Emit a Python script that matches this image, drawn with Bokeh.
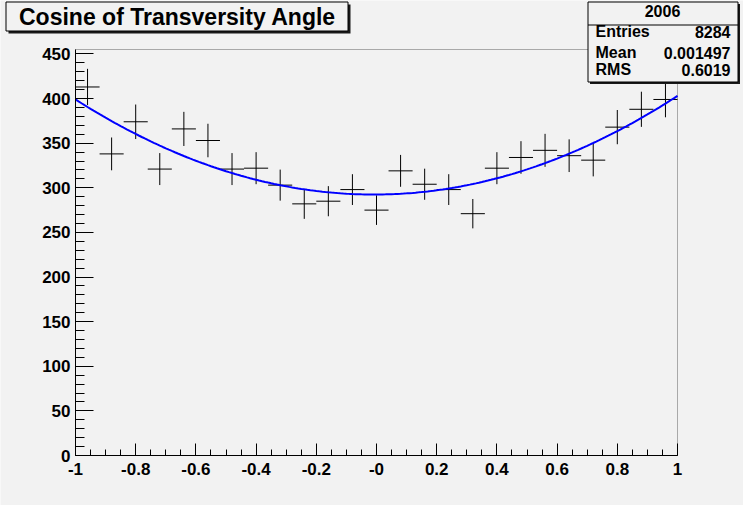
import numpy as np
from bokeh.plotting import figure
from bokeh.models import Range1d, FixedTicker, Label, BoxAnnotation, ColumnDataSource
from bokeh.embed import file_html
from bokeh.resources import INLINE

# ---- data ----
bin_centers = [-0.96, -0.88, -0.80, -0.72, -0.64, -0.56, -0.48, -0.40, -0.32, -0.24,
               -0.16, -0.08, 0.00, 0.08, 0.16, 0.24, 0.32, 0.40, 0.48, 0.56,
               0.64, 0.72, 0.80, 0.88, 0.96]
bin_width = 0.08
counts = [413, 338, 374, 321, 366, 353, 321, 322, 303, 282,
          285, 298, 275, 319, 304, 298, 271, 322, 334, 342,
          336, 331, 368, 388, 399]
# pol2 fit drawn over the histogram: p0 + p1*x + p2*x^2
fit_params = [292.5, 2.0, 108.5]

x_axis_range = [-1.0, 1.0]
y_axis_range = [0.0, 455.0]
x_tick_values = [-1.0, -0.8, -0.6, -0.4, -0.2, 0.0, 0.2, 0.4, 0.6, 0.8, 1.0]
x_tick_labels = ["-1", "-0.8", "-0.6", "-0.4", "-0.2", "-0", "0.2", "0.4", "0.6", "0.8", "1"]
y_tick_values = [0, 50, 100, 150, 200, 250, 300, 350, 400, 450]

title_text = "Cosine of Transversity Angle"
stats_title = "2006"
stats_names = ["Entries", "Mean", "RMS"]
stats_values = ["8284", "0.001497", "0.6019"]

# ---- layout (pixels inside the 743x505 canvas) ----
W, H = 743, 505
FL, FR, FT, FB = 75, 677, 49, 455      # frame edges of the histogram pad
FONT = "Liberation Sans"
BG = "#f2f2f2"

xs_per_px = (x_axis_range[1] - x_axis_range[0]) / (FR - FL)
ys_per_px = (y_axis_range[1] - y_axis_range[0]) / (FB - FT)
xr = Range1d(x_axis_range[0] - FL * xs_per_px, x_axis_range[1] + (W - FR) * xs_per_px)
yr = Range1d(y_axis_range[0] - (H - FB) * ys_per_px, y_axis_range[1] + FT * ys_per_px)

p = figure(width=W, height=H, x_range=xr, y_range=yr,
           output_backend="svg", toolbar_location=None,
           min_border_left=0, min_border_right=0, min_border_top=0, min_border_bottom=0,
           background_fill_color=BG, border_fill_color=BG, outline_line_color=None)
p.title.visible = False
p.grid.visible = False

# frame of the pad
p.add_layout(BoxAnnotation(left=x_axis_range[0], right=x_axis_range[1],
                           bottom=y_axis_range[0], top=y_axis_range[1],
                           fill_alpha=0, line_color="black", line_width=1, level="underlay"))

x_minor = [round(-1 + 0.05 * i, 2) for i in range(41)]
y_minor = list(range(0, 451, 10))
p.xaxis.ticker = FixedTicker(ticks=x_tick_values, minor_ticks=x_minor)
p.yaxis.ticker = FixedTicker(ticks=y_tick_values, minor_ticks=y_minor)
p.xaxis.major_label_overrides = {v: l for v, l in zip(x_tick_values, x_tick_labels)}
p.xaxis.fixed_location = y_axis_range[0]
p.yaxis.fixed_location = x_axis_range[0]
p.xaxis.bounds = tuple(x_axis_range)
p.yaxis.bounds = tuple(y_axis_range)

for ax in (p.xaxis[0], p.yaxis[0]):
    ax.axis_line_color = "black"
    ax.major_tick_line_color = "black"
    ax.minor_tick_line_color = "black"
    ax.major_tick_out = 0
    ax.minor_tick_out = 0
    ax.major_label_text_font = FONT
    ax.major_label_text_font_style = "bold"
    ax.major_label_text_font_size = "17px"
    ax.major_label_text_color = "black"
p.xaxis.major_label_standoff = 7
p.yaxis.major_label_standoff = 5
p.xaxis.major_tick_in = 12
p.xaxis.minor_tick_in = 6
p.yaxis.major_tick_in = 18
p.yaxis.minor_tick_in = 9

errs = [float(np.sqrt(c)) for c in counts]
src = ColumnDataSource(dict(
    x=bin_centers, y=counts,
    xl=[c - bin_width / 2 for c in bin_centers], xr=[c + bin_width / 2 for c in bin_centers],
    lo=[c - e for c, e in zip(counts, errs)], hi=[c + e for c, e in zip(counts, errs)]))
p.segment(x0="x", y0="lo", x1="x", y1="hi", source=src, line_color="black", line_width=1)
p.segment(x0="xl", y0="y", x1="xr", y1="y", source=src, line_color="black", line_width=1)

xf = np.linspace(x_axis_range[0], x_axis_range[1], 201)
yf = fit_params[0] + fit_params[1] * xf + fit_params[2] * xf ** 2
p.line(xf, yf, line_color="#0000ff", line_width=2)


def cbox(l, t, r, b, fill, line=None):
    return BoxAnnotation(left=l, right=r, top=t, bottom=b,
                         left_units="canvas", right_units="canvas",
                         top_units="canvas", bottom_units="canvas",
                         fill_color=fill, fill_alpha=1.0,
                         line_color=line if line else "black",
                         line_alpha=1.0 if line else 0.0, line_width=1,
                         level="overlay")


def clabel(x, y, text, size, align):
    return Label(x=x, y=y, x_units="canvas", y_units="canvas", text=text,
                 text_font=FONT, text_font_style="bold", text_font_size=size,
                 text_color="black", text_align=align, text_baseline="middle",
                 level="overlay")


# title box with shadow
p.add_layout(cbox(8, 4, 350, 33, "#1a1a1a"))
p.add_layout(cbox(5.5, 1.5, 347.5, 30.5, BG, "black"))
p.add_layout(clabel(177, 16, title_text, "23px", "center"))

# stats box with shadow
p.add_layout(cbox(589.5, 3.5, 739.5, 83.5, "#1a1a1a"))
p.add_layout(cbox(587.5, 1.5, 737.5, 81.5, BG, "black"))
p.add_layout(cbox(587.5, 24, 737.5, 25, "black"))
p.add_layout(clabel(662, 10, stats_title, "16px", "center"))
row_y = [31, 52, 69]
for name, val, yy in zip(stats_names, stats_values, row_y):
    p.add_layout(clabel(595, yy, name, "16px", "left"))
    p.add_layout(clabel(730, yy, val, "16px", "right"))

open("out.html", "w").write(file_html(p, INLINE))
